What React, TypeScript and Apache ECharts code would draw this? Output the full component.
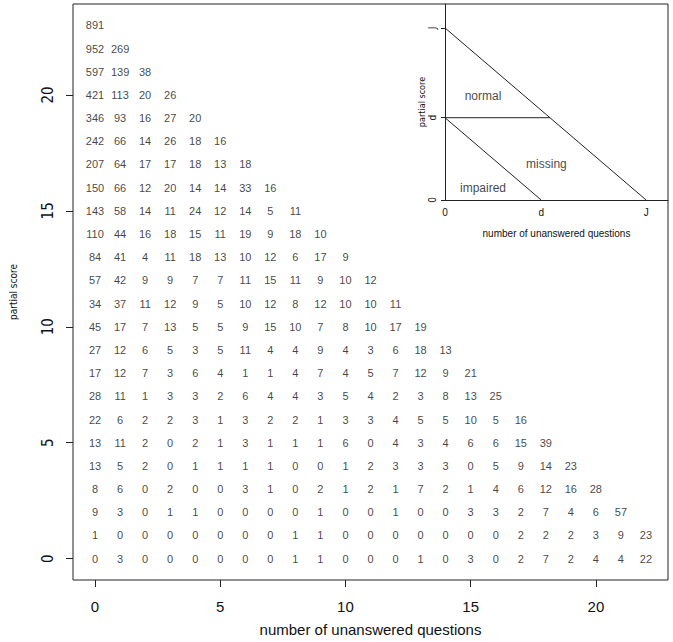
import React, { useEffect, useRef } from "react";
import * as echarts from "echarts";

// counts[y] = counts for partial score y, at number of unanswered questions x = 0, 1, 2, ...
const counts: number[][] = [
  [0, 3, 0, 0, 0, 0, 0, 0, 1, 1, 0, 0, 0, 1, 0, 3, 0, 2, 7, 2, 4, 4, 22],
  [1, 0, 0, 0, 0, 0, 0, 0, 1, 1, 0, 0, 0, 0, 0, 0, 0, 2, 2, 2, 3, 9, 23],
  [9, 3, 0, 1, 1, 0, 0, 0, 0, 1, 0, 0, 1, 0, 0, 3, 3, 2, 7, 4, 6, 57],
  [8, 6, 0, 2, 0, 0, 3, 1, 0, 2, 1, 2, 1, 7, 2, 1, 4, 6, 12, 16, 28],
  [13, 5, 2, 0, 1, 1, 1, 1, 0, 0, 1, 2, 3, 3, 3, 0, 5, 9, 14, 23],
  [13, 11, 2, 0, 2, 1, 3, 1, 1, 1, 6, 0, 4, 3, 4, 6, 6, 15, 39],
  [22, 6, 2, 2, 3, 1, 3, 2, 2, 1, 3, 3, 4, 5, 5, 10, 5, 16],
  [28, 11, 1, 3, 3, 2, 6, 4, 4, 3, 5, 4, 2, 3, 8, 13, 25],
  [17, 12, 7, 3, 6, 4, 1, 1, 4, 7, 4, 5, 7, 12, 9, 21],
  [27, 12, 6, 5, 3, 5, 11, 4, 4, 9, 4, 3, 6, 18, 13],
  [45, 17, 7, 13, 5, 5, 9, 15, 10, 7, 8, 10, 17, 19],
  [34, 37, 11, 12, 9, 5, 10, 12, 8, 12, 10, 10, 11],
  [57, 42, 9, 9, 7, 7, 11, 15, 11, 9, 10, 12],
  [84, 41, 4, 11, 18, 13, 10, 12, 6, 17, 9],
  [110, 44, 16, 18, 15, 11, 19, 9, 18, 10],
  [143, 58, 14, 11, 24, 12, 14, 5, 11],
  [150, 66, 12, 20, 14, 14, 33, 16],
  [207, 64, 17, 17, 18, 13, 18],
  [242, 66, 14, 26, 18, 16],
  [346, 93, 16, 27, 20],
  [421, 113, 20, 26],
  [597, 139, 38],
  [952, 269],
  [891],
];

const xTicks = [0, 5, 10, 15, 20];
const yTicks = [0, 5, 10, 15, 20];

// inset schematic
const J = 23;
const d = 11;
const insetTickValues = [0, d, J];
const insetTickLabels = ["0", "d", "J"];
const insetLines: number[][][] = [
  [[0, J], [J, 0]],
  [[0, d], [d, 0]],
  [[0, d], [J - d, d]],
];
const regionNames = ["normal", "missing", "impaired"];
const regionPos = [
  [4.35, 13.9],
  [11.6, 4.8],
  [4.35, 1.6],
];

const FONT = "'Liberation Sans', Arial, Helvetica, sans-serif";
const NARROW = "'Liberation Sans Narrow', 'DejaVu Sans Condensed', 'Liberation Sans', sans-serif";
const CLEAR = "rgba(0,0,0,0)";

export default function App() {
  const ref = useRef<HTMLDivElement>(null);
  useEffect(() => {
    if (!ref.current) return;
    const chart = echarts.init(ref.current, null, { renderer: "svg" });
    const cells: number[][] = [];
    counts.forEach((row, y) => row.forEach((v, x) => cells.push([x, y, v])));
    const insetLabelOf = (v: number) => {
      const i = insetTickValues.indexOf(v);
      return i >= 0 ? insetTickLabels[i] : "";
    };
    chart.setOption({
      animation: false,
      backgroundColor: "#fff",
      grid: [
        { left: 72, top: 4, width: 596, height: 579, show: true, borderColor: "#222", borderWidth: 1, backgroundColor: "transparent" },
        { left: 445, top: 4, width: 223, height: 196, show: false },
      ],
      xAxis: [
        {
          type: "value", gridIndex: 0, min: -0.88, max: 22.88,
          axisLine: { show: false, onZero: false },
          splitLine: { show: false },
          axisTick: { show: true, inside: false, length: 7, customValues: xTicks, lineStyle: { color: "#222" } },
          axisLabel: { customValues: xTicks, margin: 19, fontSize: 15, fontFamily: FONT, color: "#111" },
          name: "number of unanswered questions", nameLocation: "middle", nameGap: 42,
          nameTextStyle: { fontSize: 15, fontFamily: FONT, color: "#111" },
        },
        {
          type: "value", gridIndex: 1, min: 0, max: 25.5,
          axisLine: { show: true, onZero: false, lineStyle: { color: "#222", width: 1 } },
          splitLine: { show: false },
          axisTick: { show: false },
          axisLabel: { customValues: insetTickValues, formatter: insetLabelOf, margin: 7, fontSize: 10, fontFamily: FONT, color: "#111" },
          name: "number of unanswered questions", nameLocation: "middle", nameGap: 28,
          nameTextStyle: { fontSize: 10, fontFamily: FONT, color: "#111" },
        },
      ],
      yAxis: [
        {
          type: "value", gridIndex: 0, min: -0.92, max: 23.92,
          axisLine: { show: false, onZero: false },
          splitLine: { show: false },
          axisTick: { show: true, inside: false, length: 7, customValues: yTicks, lineStyle: { color: "#222" } },
          axisLabel: { customValues: yTicks, rotate: 90, margin: 18, fontSize: 15, fontFamily: NARROW, color: "#111" },
          name: "partial score", nameLocation: "middle", nameGap: 55, nameRotate: 90,
          nameTextStyle: { fontSize: 10, fontFamily: NARROW, color: "#111" },
        },
        {
          type: "value", gridIndex: 1, min: 0, max: 26.2,
          axisLine: { show: true, onZero: false, lineStyle: { color: "#222", width: 1 } },
          splitLine: { show: false },
          axisTick: { show: true, inside: false, length: 4, customValues: insetTickValues, lineStyle: { color: "#222" } },
          axisLabel: { customValues: insetTickValues, formatter: insetLabelOf, rotate: 90, margin: 8, fontSize: 10, fontFamily: NARROW, color: "#111" },
          name: "partial score", nameLocation: "middle", nameGap: 18, nameRotate: 90,
          nameTextStyle: { fontSize: 9, fontFamily: NARROW, color: "#111" },
        },
      ],
      series: [
        {
          type: "scatter", xAxisIndex: 0, yAxisIndex: 0,
          data: cells, symbolSize: 1, itemStyle: { color: CLEAR },
          label: {
            show: true, position: "inside",
            formatter: (p: any) => String(p.value[2]),
            fontSize: 11, fontFamily: FONT, color: "#111", textBorderWidth: 0,
          },
        },
        ...insetLines.map((seg) => ({
          type: "line", xAxisIndex: 1, yAxisIndex: 1, data: seg,
          symbol: "none", lineStyle: { color: "#222", width: 1 }, silent: true,
        })),
        {
          type: "scatter", xAxisIndex: 1, yAxisIndex: 1,
          data: regionPos.map((p, i) => [p[0], p[1], regionNames[i]]),
          symbolSize: 1, itemStyle: { color: CLEAR },
          label: {
            show: true, position: "inside",
            formatter: (p: any) => p.value[2],
            fontSize: 12, fontFamily: FONT, color: "#111", textBorderWidth: 0,
          },
        },
      ],
    });
    return () => chart.dispose();
  }, []);
  return <div ref={ref} style={{ position: "fixed", left: 0, top: 0, width: 673, height: 642 }} />;
}
